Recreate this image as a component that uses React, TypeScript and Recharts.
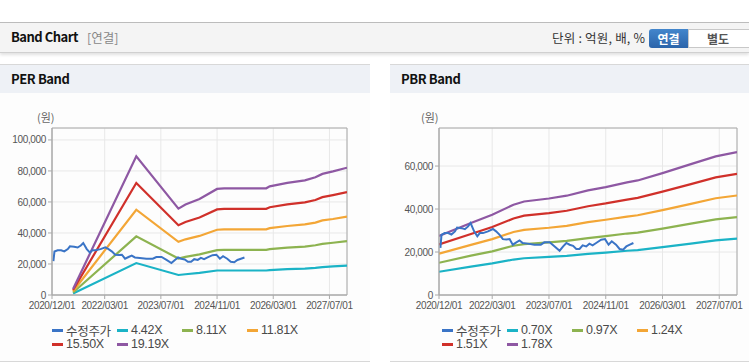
import React from 'react';
import { LineChart, Line, XAxis, YAxis, CartesianGrid, ReferenceArea } from 'recharts';

// ---------- data ----------
const X_TICK_MONTHS = [0, 15, 31, 47, 63, 79];
const X_TICK_LABELS = ['2020/12/01', '2022/03/01', '2023/07/01', '2024/11/01', '2026/03/01', '2027/07/01'];
const X_MAX = 84;

const PRICE_MONTHS = [0.4, 0.7, 1.6, 2.6, 3.5, 4.5, 5.1, 6.3, 7.3, 8.2, 8.9, 9.9, 10.8, 11.5, 12.4, 13.8, 15.2, 16.1, 17.1, 18.0, 19.0, 19.9, 20.8, 21.8, 22.7, 23.6, 25.0, 26.9, 28.7, 29.7, 31.2, 32.6, 34.0, 35.0, 35.9, 36.8, 37.8, 38.7, 39.6, 40.5, 41.5, 42.4, 43.3, 44.3, 45.7, 46.8, 47.8, 48.7, 49.9, 50.9, 51.9, 52.8, 53.8, 54.8];
const PRICE_VALUES = [21900, 28000, 28800, 28800, 28100, 29600, 31400, 31100, 30600, 31900, 33500, 29600, 27300, 28800, 28800, 29600, 30700, 29600, 28000, 26000, 25800, 26000, 23400, 24500, 25400, 24200, 23900, 23400, 23400, 24500, 24500, 22600, 20600, 22600, 24200, 23400, 22900, 21400, 21400, 23100, 22600, 23900, 23100, 24200, 25700, 26000, 23400, 25000, 23400, 21400, 21100, 22600, 23400, 24200];

const PER_MONTHS = [6, 24, 36, 38, 42, 47, 49, 61, 62, 67, 72, 75, 77, 80, 84];
const PER_442 = [900, 20600, 12900, 13400, 14300, 15800, 15800, 15800, 16100, 16700, 17000, 17500, 18000, 18400, 18900];
const PER_811 = [1600, 37800, 23500, 24600, 26200, 28900, 29100, 29100, 29600, 30600, 31200, 32100, 33000, 33700, 34700];
const PER_1181 = [2400, 55000, 34300, 35900, 38100, 42100, 42300, 42300, 43100, 44500, 45500, 46700, 48100, 49000, 50500];
const PER_1550 = [3200, 72200, 45000, 47100, 50000, 55200, 55600, 55600, 56600, 58400, 59700, 61300, 63100, 64400, 66300];
const PER_1919 = [3900, 89400, 55700, 58300, 61900, 68400, 68800, 68800, 70100, 72300, 73900, 75900, 78100, 79700, 82100];
const PER_Y_TICKS = [0, 20000, 40000, 60000, 80000, 100000];
const PER_Y_MAX = 107700;

const PBR_MONTHS = [0, 9, 15, 21, 24, 31, 36, 42, 47, 53, 56, 63, 71, 78, 84];
const PBR_070 = [10800, 13200, 14700, 16500, 17100, 17700, 18200, 19100, 19700, 20600, 20900, 22300, 23900, 25400, 26200];
const PBR_097 = [15000, 18300, 20300, 22900, 23700, 24500, 25200, 26500, 27400, 28600, 29000, 30900, 33200, 35200, 36200];
const PBR_124 = [19200, 23300, 26000, 29300, 30300, 31300, 32200, 33900, 35000, 36500, 37100, 39500, 42400, 45000, 46300];
const PBR_151 = [23500, 28400, 31600, 35600, 36900, 38100, 39200, 41300, 42600, 44400, 45200, 48100, 51600, 54700, 56400];
const PBR_178 = [27500, 33500, 37300, 42000, 43500, 44900, 46200, 48700, 50200, 52400, 53300, 56700, 60900, 64500, 66500];
const PBR_Y_TICKS = [0, 20000, 40000, 60000];
const PBR_Y_MAX = 77700;

const PRICE_NAME = '수정주가';
const PER_NAMES = ['4.42X', '8.11X', '11.81X', '15.50X', '19.19X'];
const PBR_NAMES = ['0.70X', '0.97X', '1.24X', '1.51X', '1.78X'];
const PRICE_COLOR = '#3a74c6';
const BAND_COLORS = ['#1bb3c6', '#8db350', '#f3a636', '#d0302a', '#8e58a3'];

const toRows = (months: number[], vals: number[]) => months.map((m, i) => ({ m, v: vals[i] }));

const FONT_KR = "'Noto Sans CJK KR', 'Noto Sans', sans-serif";
const FONT_TICK = "'Liberation Sans', Arial, sans-serif";

type BandChartProps = {
  left: number;
  width: number;
  yAxisWidth: number;
  rightMargin: number;
  yMax: number;
  yTicks: number[];
  bandMonths: number[];
  bands: number[][];
};

function BandLineChart(p: BandChartProps) {
  const tickStyle = { fontSize: 10, fill: '#555', fontFamily: FONT_TICK, letterSpacing: -0.35 };
  return (
    <div style={{ position: 'absolute', left: p.left, top: 100 }}>
      <LineChart width={p.width} height={225} margin={{ top: 28, right: p.rightMargin, left: 0, bottom: 0 }}>
        <CartesianGrid stroke="#e8e8e8" />
        <XAxis
          type="number"
          dataKey="m"
          domain={[0, X_MAX]}
          ticks={X_TICK_MONTHS}
          tickFormatter={(v: number) => X_TICK_LABELS[X_TICK_MONTHS.indexOf(v)] ?? ''}
          tick={tickStyle}
          tickSize={4}
          tickMargin={3}
          stroke="#aaa"
          height={30}
          interval={0}
          allowDataOverflow
        />
        <YAxis
          type="number"
          domain={[0, p.yMax]}
          ticks={p.yTicks}
          tickFormatter={(v: number) => v.toLocaleString('en-US')}
          tick={tickStyle}
          tickSize={4}
          tickMargin={2}
          stroke="#aaa"
          width={p.yAxisWidth}
          interval={0}
          allowDataOverflow
        />
        <ReferenceArea x1={0} x2={X_MAX} y1={0} y2={p.yMax} fill="none" stroke="#aaa" strokeWidth={1} ifOverflow="visible" />
        {p.bands.map((vals, i) => (
          <Line
            key={i}
            data={toRows(p.bandMonths, vals)}
            dataKey="v"
            type="linear"
            stroke={BAND_COLORS[i]}
            strokeWidth={2.2}
            dot={false}
            activeDot={false}
            isAnimationActive={false}
          />
        ))}
        <Line
          data={toRows(PRICE_MONTHS, PRICE_VALUES)}
          dataKey="v"
          type="linear"
          stroke={PRICE_COLOR}
          strokeWidth={2}
          dot={false}
          activeDot={false}
          isAnimationActive={false}
        />
      </LineChart>
    </div>
  );
}

function LegendBlock({ left, names }: { left: number; names: string[] }) {
  const items = [{ name: PRICE_NAME, color: PRICE_COLOR }, ...names.map((n, i) => ({ name: n, color: BAND_COLORS[i] }))];
  return (
    <>
      {items.map((it, idx) => {
        const col = idx % 4;
        const row = Math.floor(idx / 4);
        return (
          <div
            key={idx}
            style={{
              position: 'absolute',
              left: left + col * 65,
              top: 323 + row * 14,
              height: 14,
              display: 'flex',
              alignItems: 'center',
              whiteSpace: 'nowrap',
            }}
          >
            <span style={{ display: 'inline-block', width: 11, height: 3, background: it.color, marginRight: 3 }} />
            <span style={{ fontSize: 12.5, color: '#4a4a4a', fontFamily: `'Liberation Sans', ${FONT_KR}`, letterSpacing: -0.3 }}>{it.name}</span>
          </div>
        );
      })}
    </>
  );
}

function Panel({ left, width, title }: { left: number; width: number; title: string }) {
  return (
    <div
      style={{
        position: 'absolute',
        left,
        top: 64,
        width,
        height: 298,
        borderTop: '1px solid #d8d8d8',
        borderBottom: '1px solid #d8d8d8',
        background: '#fdfdfd',
        boxSizing: 'border-box',
      }}
    >
      <div style={{ height: 28, background: '#eef1f6', position: 'relative' }}>
        <span
          style={{
            position: 'absolute',
            left: 11,
            top: 6,
            fontSize: 13,
            fontWeight: 700,
            color: '#111',
            fontFamily: FONT_KR,
            letterSpacing: -0.4,
            lineHeight: '16px',
          }}
        >
          {title}
        </span>
      </div>
    </div>
  );
}

export default function App() {
  return (
    <div style={{ position: 'relative', width: 749, height: 364, overflow: 'hidden', background: '#fff', fontFamily: FONT_KR }}>
      <style>{`body{margin:0}`}</style>
      {/* header */}
      <div style={{ position: 'absolute', left: 0, top: 22, width: 749, height: 1, background: '#bdbdbd' }} />
      <div
        style={{
          position: 'absolute',
          left: 0,
          top: 23,
          width: 749,
          height: 29,
          background: '#f4f4f4',
          borderBottom: '1px solid #d0d0d0',
          boxShadow: '0 2px 3px rgba(0,0,0,0.12)',
        }}
      >
        <span style={{ position: 'absolute', left: 11, top: 6, fontSize: 13, fontWeight: 700, color: '#111', letterSpacing: -0.5, lineHeight: '16px' }}>
          Band Chart
        </span>
        <span style={{ position: 'absolute', left: 87, top: 7, fontSize: 12.5, color: '#888', lineHeight: '15px' }}>[연결]</span>
        <span style={{ position: 'absolute', left: 552, top: 7, fontSize: 12.5, color: '#333', lineHeight: '15px', letterSpacing: 0.2 }}>
          단위 : 억원, 배, %
        </span>
        <div
          style={{
            position: 'absolute',
            left: 649,
            top: 6,
            width: 39,
            height: 19,
            background: 'linear-gradient(#4386cc, #2b64aa)',
            borderRadius: '3px 0 0 3px',
            color: '#fff',
            fontSize: 12,
            fontWeight: 700,
            textAlign: 'center',
            lineHeight: '19px',
          }}
        >
          연결
        </div>
        <div
          style={{
            position: 'absolute',
            left: 688,
            top: 6,
            width: 64,
            height: 19,
            background: '#fff',
            border: '1px solid #c8c8c8',
            boxSizing: 'border-box',
            color: '#555',
            fontSize: 12,
            fontWeight: 700,
            textAlign: 'center',
            lineHeight: '17px',
            paddingRight: 4,
          }}
        >
          별도
        </div>
      </div>

      <Panel left={0} width={370} title="PER Band" />
      <Panel left={390} width={370} title="PBR Band" />

      <span style={{ position: 'absolute', left: 37, top: 110, fontSize: 11, color: '#666', lineHeight: '14px' }}>(원)</span>
      <span style={{ position: 'absolute', left: 421, top: 110, fontSize: 11, color: '#666', lineHeight: '14px' }}>(원)</span>

      <BandLineChart
        left={0}
        width={375}
        yAxisWidth={52}
        rightMargin={28}
        yMax={PER_Y_MAX}
        yTicks={PER_Y_TICKS}
        bandMonths={PER_MONTHS}
        bands={[PER_442, PER_811, PER_1181, PER_1550, PER_1919]}
      />
      <BandLineChart
        left={375}
        width={374}
        yAxisWidth={64}
        rightMargin={12}
        yMax={PBR_Y_MAX}
        yTicks={PBR_Y_TICKS}
        bandMonths={PBR_MONTHS}
        bands={[PBR_070, PBR_097, PBR_124, PBR_151, PBR_178]}
      />

      <LegendBlock left={52} names={PER_NAMES} />
      <LegendBlock left={442} names={PBR_NAMES} />
    </div>
  );
}
